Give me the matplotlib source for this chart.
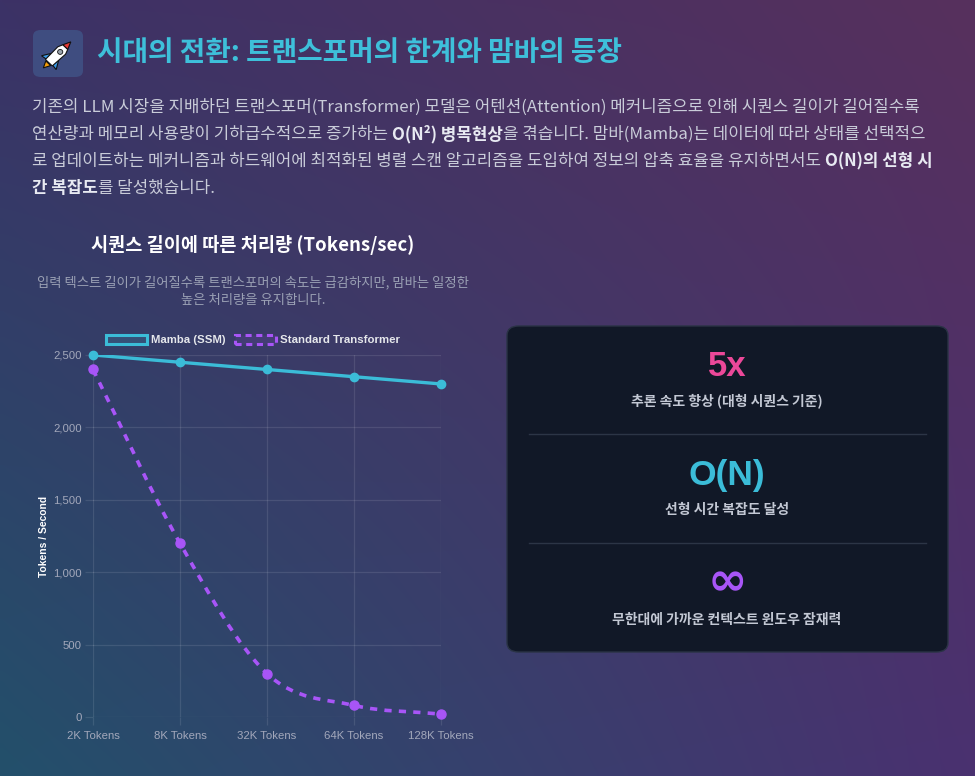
import matplotlib
matplotlib.use("Agg")
import matplotlib.pyplot as plt
import numpy as np
from matplotlib.patches import FancyBboxPatch, Patch, Polygon, Ellipse
from matplotlib.path import Path
from matplotlib.patches import PathPatch
from matplotlib.ticker import FuncFormatter

plt.rcParams["font.family"] = ["Noto Sans CJK KR", "DejaVu Sans"]

# data
categories = ["2K Tokens", "8K Tokens", "32K Tokens", "64K Tokens", "128K Tokens"]
mamba = [2500, 2450, 2400, 2350, 2300]
transformer = [2400, 1200, 300, 80, 20]
series_names = ["Mamba (SSM)", "Standard Transformer"]

stat_values = ["5x", "O(N)", "∞"]
stat_labels = ["추론 속도 향상 (대형 시퀀스 기준)", "선형 시간 복잡도 달성", "무한대에 가까운 컨텍스트 윈도우 잠재력"]
stat_colors = ["#ec4899", "#3bbcd8", "#a855f7"]

W, H = 975, 776
fig = plt.figure(figsize=(W / 100, H / 100), dpi=100)


def fx(x):
    return x / W


def fy(y):
    return 1 - y / H


# background gradient
bg = fig.add_axes([0, 0, 1, 1])
bg.set_axis_off()
tl = np.array([0x3c, 0x32, 0x66]) / 255
tr = np.array([0x57, 0x30, 0x5d]) / 255
bl = np.array([0x23, 0x50, 0x6b]) / 255
br = np.array([0x4a, 0x31, 0x70]) / 255
u = np.linspace(0, 1, 200)[None, :, None]
v = np.linspace(0, 1, 160)[:, None, None]
img = (1 - v) * ((1 - u) * tl + u * tr) + v * ((1 - u) * bl + u * br)
bg.imshow(img, aspect="auto", extent=[0, 1, 0, 1], interpolation="bilinear")
bg.set_xlim(0, 1)
bg.set_ylim(0, 1)

# icon box with a small rocket
icon = FancyBboxPatch((fx(33), fy(77)), fx(50), 47 / H,
                      boxstyle="round,pad=0,rounding_size=0.008",
                      transform=fig.transFigure, facecolor="#3f4d80", edgecolor="none", zorder=0.5)
fig.patches.append(icon)
rk = fig.add_axes([fx(39), fy(72), fx(38), 36 / H])
rk.set_zorder(2)
rk.set_xlim(-1.1, 1.1)
rk.set_ylim(-1.1, 1.1)
rk.set_axis_off()
ang = np.deg2rad(-45)
rot = np.array([[np.cos(ang), -np.sin(ang)], [np.sin(ang), np.cos(ang)]])


def rpoly(pts, **kw):
    p = np.array(pts) @ rot.T
    rk.add_patch(Polygon(p, closed=True, **kw))


rpoly([[-0.2, -0.8], [0.0, -1.2], [0.2, -0.8]], facecolor="#f59e0b", edgecolor="#111", lw=0.8)
rpoly([[-0.3, -0.25], [-0.6, -0.75], [-0.25, -0.7]], facecolor="#3b9be8", edgecolor="#111", lw=0.8)
rpoly([[0.3, -0.25], [0.6, -0.75], [0.25, -0.7]], facecolor="#3b9be8", edgecolor="#111", lw=0.8)
rpoly([[-0.28, -0.75], [-0.32, 0.3], [-0.2, 0.6], [0.2, 0.6], [0.32, 0.3], [0.28, -0.75]],
      facecolor="white", edgecolor="#111", lw=0.8)
rpoly([[-0.2, 0.6], [0.0, 1.05], [0.2, 0.6]], facecolor="#e53935", edgecolor="#111", lw=0.8)
c = np.array([0.0, 0.18]) @ rot.T
rk.add_patch(Ellipse(c, 0.3, 0.3, facecolor="#9aa3ad", edgecolor="#111", lw=0.6))

# heading
fig.text(fx(97), fy(53), "시대의 전환: 트랜스포머의 한계와 맘바의 등장", fontsize=20,
         fontweight="bold", color="#3ec0da", va="center", ha="left")

# paragraph with bold runs
renderer = fig.canvas.get_renderer()
body_color = "#c9ccd9"
bold_color = "#e8eaf2"
lines = [
    [("기존의 LLM 시장을 지배하던 트랜스포머(Transformer) 모델은 어텐션(Attention) 메커니즘으로 인해 시퀀스 길이가 길어질수록", False)],
    [("연산량과 메모리 사용량이 기하급수적으로 증가하는 ", False), ("O(N²) 병목현상", True),
     ("을 겪습니다. 맘바(Mamba)는 데이터에 따라 상태를 선택적으", False)],
    [("로 업데이트하는 메커니즘과 하드웨어에 최적화된 병렬 스캔 알고리즘을 도입하여 정보의 압축 효율을 유지하면서도 ", False),
     ("O(N)의 선형 시", True)],
    [("간 복잡도", True), ("를 달성했습니다.", False)],
]
line_y = [107, 134, 161, 188]
for runs, y in zip(lines, line_y):
    x = 32
    for txt, bold in runs:
        t = fig.text(fx(x), fy(y), txt, fontsize=12.1, va="center", ha="left",
                     fontweight="bold" if bold else "normal",
                     color=bold_color if bold else body_color)
        x += t.get_window_extent(renderer).width

# chart titles
fig.text(fx(253), fy(245), "시퀀스 길이에 따른 처리량 (Tokens/sec)", fontsize=13.4,
         fontweight="bold", color="white", ha="center", va="center")
fig.text(fx(253), fy(291), "입력 텍스트 길이가 길어질수록 트랜스포머의 속도는 급감하지만, 맘바는 일정한\n높은 처리량을 유지합니다.",
         fontsize=9.6, color="#9aa0b4", ha="center", va="center", linespacing=1.35)

# line chart
ax = fig.add_axes([fx(93), fy(717), fx(441) - fx(93), (717 - 355) / H])
ax.set_facecolor("none")
xs = np.arange(len(categories))
ax.set_xlim(0, len(categories) - 1)
ax.set_ylim(0, 2500)


def monotone_path(xv, yv):
    xv = np.asarray(xv, float)
    yv = np.asarray(yv, float)
    n = len(xv)
    dx = np.diff(xv)
    delta = np.diff(yv) / dx
    m = np.zeros(n)
    m[0], m[-1] = delta[0], delta[-1]
    for i in range(1, n - 1):
        m[i] = 0 if delta[i - 1] * delta[i] <= 0 else (delta[i - 1] + delta[i]) / 2
    for i in range(n - 1):
        if delta[i] == 0:
            m[i] = m[i + 1] = 0
            continue
        a, b = m[i] / delta[i], m[i + 1] / delta[i]
        s = a * a + b * b
        if s > 9:
            tau = 3 / np.sqrt(s)
            m[i], m[i + 1] = tau * a * delta[i], tau * b * delta[i]
    verts = [(xv[0], yv[0])]
    codes = [Path.MOVETO]
    for i in range(n - 1):
        h = dx[i] / 3
        verts += [(xv[i] + h, yv[i] + m[i] * h), (xv[i + 1] - h, yv[i + 1] - m[i + 1] * h),
                  (xv[i + 1], yv[i + 1])]
        codes += [Path.CURVE4] * 3
    return Path(verts, codes)


mamba_c = "#3bbcd8"
trans_c = "#a855f7"
ax.add_patch(PathPatch(monotone_path(xs, mamba), facecolor="none", edgecolor=mamba_c, lw=2.4, zorder=3))
ax.add_patch(PathPatch(monotone_path(xs, transformer), facecolor="none", edgecolor=trans_c, lw=2.6,
                       linestyle=(0, (2.0, 2.0)), zorder=3))
ax.plot(xs, mamba, "o", color=mamba_c, markersize=6, zorder=4, clip_on=False)
ax.plot(xs, transformer, "o", color=trans_c, markersize=6.5, zorder=4, clip_on=False)

ax.set_xticks(xs)
ax.set_xticklabels(categories)
ax.set_yticks(np.arange(0, 2501, 500))
ax.yaxis.set_major_formatter(FuncFormatter(lambda v, p: f"{int(v):,}"))
ax.grid(True, color="white", alpha=0.1, lw=0.9)
for s in ax.spines.values():
    s.set_visible(False)
ax.tick_params(colors=(1, 1, 1, 0.1), labelcolor="#a3a8bb", labelsize=8.2, length=6, width=0.9, pad=2)
ax.tick_params(axis="x", pad=4)
for lab in ax.get_xticklabels() + ax.get_yticklabels():
    lab.set_family(["Liberation Sans"])
ax.set_ylabel("Tokens / Second", color="white", fontsize=7.4, fontweight="bold", labelpad=3,
              family=["Liberation Sans"])

handles = [
    Patch(facecolor=(0.23, 0.74, 0.85, 0.15), edgecolor=mamba_c, lw=2.2),
    Patch(facecolor=(0.66, 0.33, 0.97, 0.1), edgecolor=trans_c, lw=2.2, linestyle=(0, (2, 1.5))),
]
leg = fig.legend(handles, series_names, loc="center", bbox_to_anchor=(fx(253), fy(340)),
                 ncol=2, frameon=False, handlelength=3.6, handleheight=0.9,
                 handletextpad=0.4, columnspacing=0.8, labelcolor="#e5e7eb",
                 prop={"family": ["Liberation Sans"], "size": 8.2, "weight": "bold"})

# stats card
card = FancyBboxPatch((fx(507), fy(652)), fx(441), (652 - 326) / H,
                      boxstyle="round,pad=0,rounding_size=0.012", transform=fig.transFigure,
                      facecolor="#111827", edgecolor="#2a3345", lw=1.0)
fig.patches.append(card)
val_y = [367, 475, 583]
lab_y = [401, 510, 620]
val_size = [25, 25.5, 34]
val_fonts = [["Liberation Sans"], ["Liberation Sans"], ["Noto Sans", "DejaVu Sans"]]
for val, lab, col, vy, ly, vs, vf in zip(stat_values, stat_labels, stat_colors, val_y, lab_y,
                                         val_size, val_fonts):
    fig.text(fx(727), fy(vy), val, fontsize=vs, fontweight="bold", color=col,
             ha="center", va="center", family=vf)
    fig.text(fx(727), fy(ly), lab, fontsize=10, fontweight="bold", color="#c3c8d4",
             ha="center", va="center")
for dy in [434, 543]:
    fig.add_artist(plt.Line2D([fx(529), fx(926)], [fy(dy), fy(dy)], transform=fig.transFigure,
                              color="#2c3546", lw=1.0))

fig.savefig("out.png", dpi=100)
